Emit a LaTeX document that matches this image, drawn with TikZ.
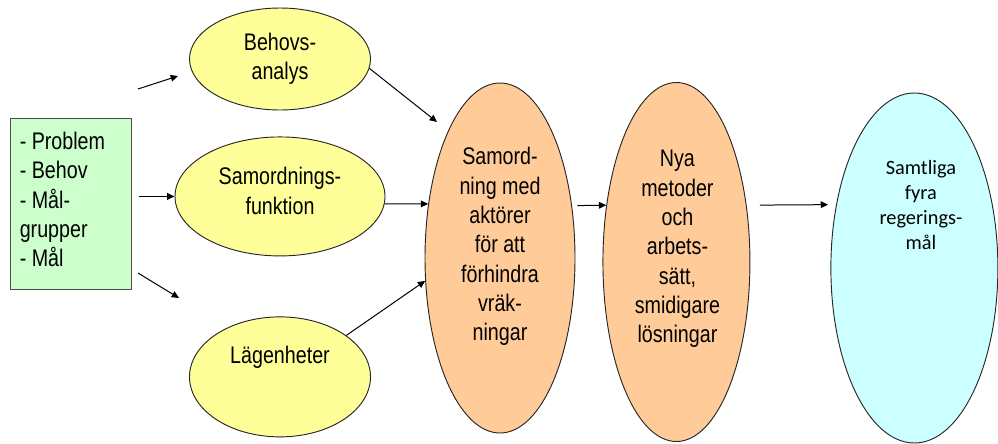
\documentclass[tikz,border=0pt]{standalone}
\usepackage{fontspec}
\setmainfont{Liberation Sans}[FakeStretch=0.82]
\newfontfamily\goalfont{Carlito}
\usetikzlibrary{positioning,shapes.geometric,arrows.meta}

\definecolor{boxgreen}{HTML}{CCFFCC}
\definecolor{ellyellow}{HTML}{FFFF99}
\definecolor{ellorange}{HTML}{FFCC99}
\definecolor{ellcyan}{HTML}{CCFFFF}

\tikzset{
  ell/.style={ellipse, draw=black!85, line width=0.7pt, inner sep=0pt},
  txt/.style={align=center, inner sep=0pt, font=\fontsize{18}{22}\selectfont},
  arr/.style={-{Triangle[length=5.5pt,width=5pt]}, line width=0.75pt}
}

\begin{document}
\begin{tikzpicture}[x=0.75pt, y=-0.75pt]
    \useasboundingbox (0,0) rectangle (998,443);

                % Nodes
                \node (box) at (70.5,203.5) [draw=black!70, line width=0.7pt, fill=boxgreen, minimum width=90.75pt, minimum height=128.25pt] {};
                \node (boxtext) [txt, align=left, anchor=west] at ([xshift=7.5pt, yshift=3pt]box.west) {- Problem\\- Behov\\- Mål-\\grupper\\- Mål};

                \node (behov) at (280,59) [ell, fill=ellyellow, minimum width=135.75pt, minimum height=76.5pt] {};
                \node[below=19.5pt of behov] (samord) [ell, fill=ellyellow, minimum width=157.5pt, minimum height=89.25pt] {};
                \node[below=45pt of samord] (lagen) [ell, fill=ellyellow, minimum width=135.75pt, minimum height=90pt] {};

                \node (ord1) at (500,258) [ell, fill=ellorange, minimum width=112.5pt, minimum height=262.5pt] {};
                \node[right=20.25pt of ord1, yshift=-3pt] (ord2) [ell, fill=ellorange, minimum width=110.25pt, minimum height=269.25pt] {};
                \node[right=60pt of ord2, yshift=-4.5pt] (goal) [ell, fill=ellcyan, minimum width=125.25pt, minimum height=262.5pt] {};

                % Texts
                \node (behovtext) [txt] at (behov) {Behovs-\\analys};
                \node (samordtext) [txt] at ([yshift=4.1pt]samord.center) {Samordnings-\\funktion};
                \node (lagentext) [txt] at ([yshift=15pt]lagen.center) {Lägenheter};
                \node (ord1text) [txt] at ([yshift=8.6pt]ord1.center) {Samord-\\ning med\\aktörer\\för att\\förhindra\\vräk-\\ningar};
                \node (ord2text) [txt] at ([xshift=0.75pt, yshift=9.6pt]ord2.center) {Nya\\metoder\\och\\arbets-\\sätt,\\smidigare\\lösningar};
                \node (goaltext) [txt, font=\goalfont\fontsize{15.25}{18.75}\selectfont] at ([xshift=4.9pt, yshift=47pt]goal.center) {Samtliga\\fyra\\regerings-\\mål};

                % Free arrow ends
                \coordinate (in1s) at (138,89);
                \coordinate (in1e) at (178,76);
                \coordinate (in3s) at (138,273);
                \coordinate (in3e) at (179,298);
                \coordinate (ord1in) at (437,122);

                % Transitions
                \draw[arr] (in1s) -- (in1e);
                \draw[arr, shorten <=6pt] (box.east |- samord.west) -- (samord.west);
                \draw[arr] (in3s) -- (in3e);
                \draw[arr] (behov.-6) -- (ord1in);
                \draw[arr] (samord.-4) -- (ord1.143);
                \draw[arr] (lagen.32) -- (ord1.197);
                \draw[arr, shorten <=4pt] (ord1.36) -- (ord2.141);
                \draw[arr, shorten <=10pt, shorten >=6pt] (ord2.39) -- (goal.141);

            \end{tikzpicture}
\end{document}
